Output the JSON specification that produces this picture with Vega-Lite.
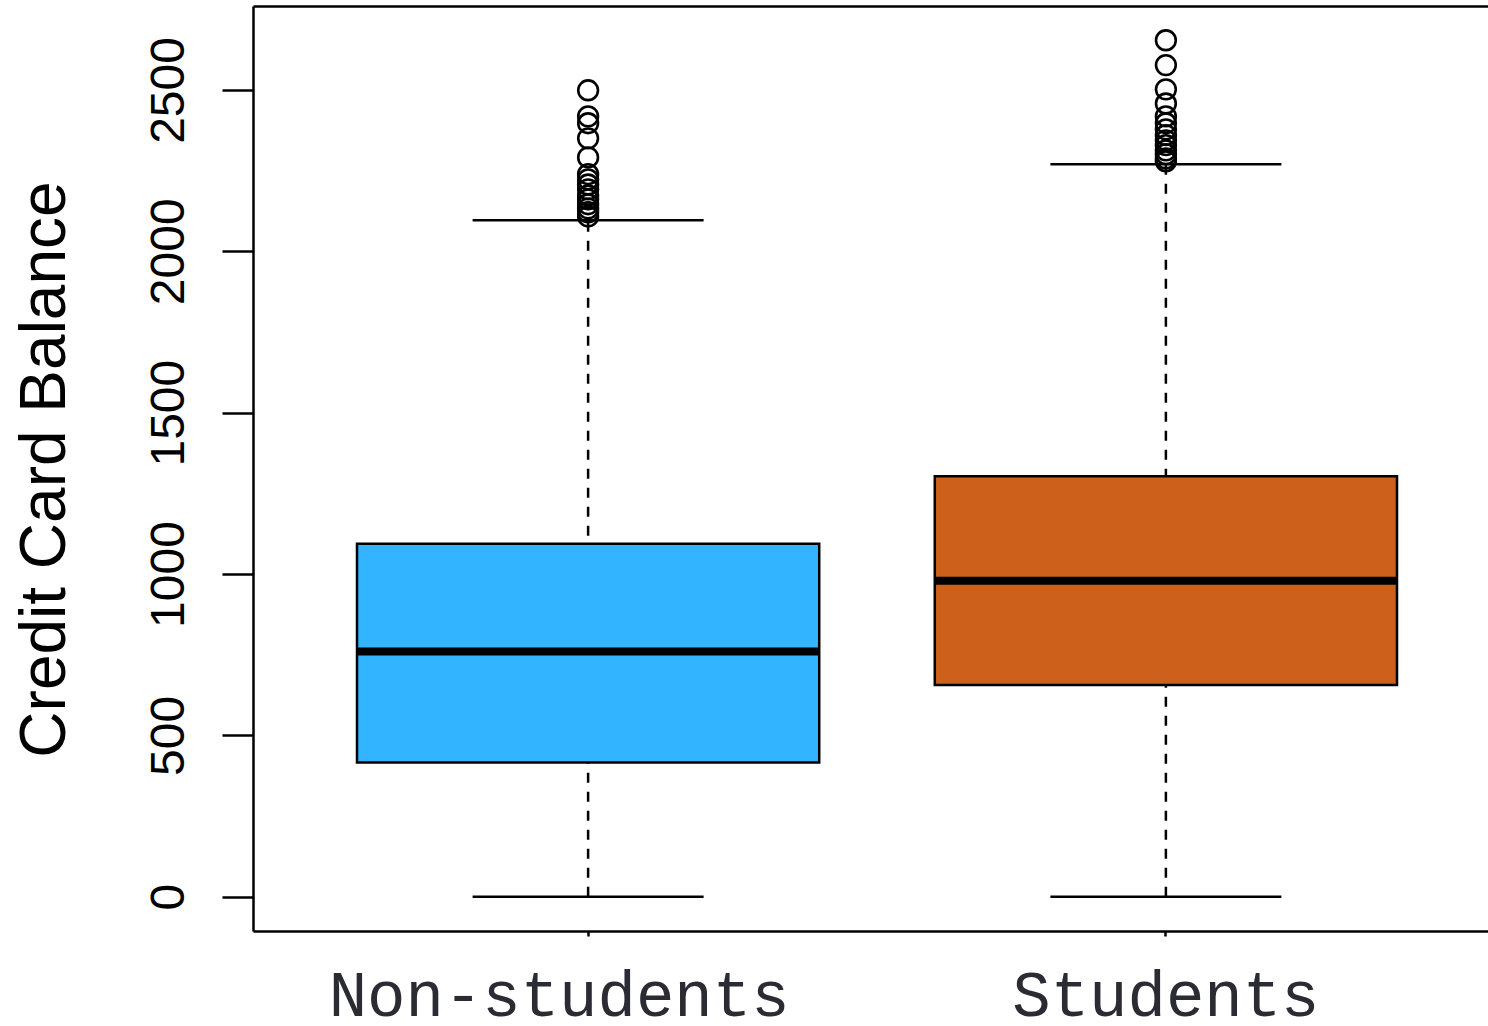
{
  "$schema": "https://vega.github.io/schema/vega-lite/v6.json",
  "width": 1235,
  "height": 925,
  "autosize": "none",
  "padding": {"left": 253, "top": 6, "right": 0, "bottom": 95},
  "background": "white",
  "config": {
    "view": {"stroke": null},
    "axis": {"grid": false},
    "axisY": {
      "labelAngle": -90,
      "labelAlign": "center",
      "labelBaseline": "alphabetic",
      "labelFont": "Liberation Sans",
      "labelFontSize": 48,
      "labelColor": "black",
      "labelPadding": 39,
      "labelFlush": false,
      "labelOverlap": false,
      "tickSize": 31,
      "tickWidth": 2.5,
      "tickColor": "black",
      "domainColor": "black",
      "domainWidth": 2.5,
      "titleFont": "Liberation Sans",
      "titleFontSize": 64,
      "titleFontWeight": "normal",
      "titleColor": "black",
      "titleAngle": -90,
      "titleX": -189,
      "titleY": 463,
      "titleAlign": "center",
      "titleBaseline": "alphabetic"
    }
  },
  "datasets": {
    "summary": [
      {"group": "Non-students", "lower": 0, "q1": 416, "median": 760, "q3": 1094, "upper": 2096},
      {"group": "Students", "lower": 0, "q1": 656, "median": 979, "q3": 1303, "upper": 2270}
    ],
    "outliers": [
      {"group": "Non-students", "balance": 2499},
      {"group": "Non-students", "balance": 2418},
      {"group": "Non-students", "balance": 2397},
      {"group": "Non-students", "balance": 2350},
      {"group": "Non-students", "balance": 2291},
      {"group": "Non-students", "balance": 2239},
      {"group": "Non-students", "balance": 2223},
      {"group": "Non-students", "balance": 2207},
      {"group": "Non-students", "balance": 2192},
      {"group": "Non-students", "balance": 2173},
      {"group": "Non-students", "balance": 2161},
      {"group": "Non-students", "balance": 2146},
      {"group": "Non-students", "balance": 2133},
      {"group": "Non-students", "balance": 2121},
      {"group": "Non-students", "balance": 2108},
      {"group": "Students", "balance": 2654},
      {"group": "Students", "balance": 2577},
      {"group": "Students", "balance": 2502},
      {"group": "Students", "balance": 2458},
      {"group": "Students", "balance": 2418},
      {"group": "Students", "balance": 2397},
      {"group": "Students", "balance": 2378},
      {"group": "Students", "balance": 2360},
      {"group": "Students", "balance": 2344},
      {"group": "Students", "balance": 2329},
      {"group": "Students", "balance": 2313},
      {"group": "Students", "balance": 2301},
      {"group": "Students", "balance": 2288},
      {"group": "Students", "balance": 2279}
    ]
  },
  "resolve": {"axis": {"x": "independent"}},
  "layer": [
    {
      "data": {"name": "summary"},
      "mark": {"type": "rule", "stroke": "black", "strokeWidth": 2.5, "strokeDash": [10, 9], "opacity": 1},
      "encoding": {
        "x": {
          "field": "group", "type": "nominal",
          "scale": {"domain": ["Non-students", "Students"], "range": [0, 1248], "paddingInner": 0.2, "paddingOuter": 0.18},
          "axis": {
            "orient": "bottom", "title": null, "labelAngle": 0, "labelLimit": 0,
            "labelFont": "Liberation Mono", "labelFontSize": 64, "labelColor": "#2b2b33",
            "labelPadding": 79, "labelBaseline": "alphabetic",
            "labelOffset": {"condition": {"test": "datum.value === 'Non-students'", "value": -29}, "value": 0},
            "tickSize": 5, "tickWidth": 2.5, "tickColor": "black",
            "domainColor": "black", "domainWidth": 2.5
          }
        },
        "y": {
          "field": "lower", "type": "quantitative", "title": "Credit Card Balance",
          "scale": {"domain": [-106.2, 2760.2], "nice": false, "zero": false},
          "axis": {"values": [0, 500, 1000, 1500, 2000, 2500], "format": "d"}
        },
        "y2": {"field": "upper"}
      }
    },
    {
      "data": {"name": "summary"},
      "mark": {"type": "tick", "color": "black", "size": 231, "thickness": 2.5, "orient": "horizontal", "opacity": 1},
      "encoding": {
        "x": {
          "field": "group", "type": "nominal",
          "axis": {"orient": "top", "ticks": false, "labels": false, "title": null, "domainColor": "black", "domainWidth": 2.5}
        },
        "y": {"field": "lower", "type": "quantitative", "title": "Credit Card Balance"}
      }
    },
    {
      "data": {"name": "summary"},
      "mark": {"type": "tick", "color": "black", "size": 231, "thickness": 2.5, "orient": "horizontal", "opacity": 1},
      "encoding": {
        "x": {"field": "group", "type": "nominal", "axis": null},
        "y": {"field": "upper", "type": "quantitative", "title": "Credit Card Balance"}
      }
    },
    {
      "data": {"name": "summary"},
      "mark": {"type": "bar", "stroke": "black", "strokeWidth": 2.5, "opacity": 1},
      "encoding": {
        "x": {"field": "group", "type": "nominal", "axis": null},
        "y": {"field": "q1", "type": "quantitative", "title": "Credit Card Balance"},
        "y2": {"field": "q3"},
        "fill": {
          "field": "group", "type": "nominal",
          "scale": {"domain": ["Non-students", "Students"], "range": ["#33b4ff", "#cd601a"]},
          "legend": null
        }
      }
    },
    {
      "data": {"name": "summary"},
      "mark": {"type": "tick", "color": "black", "size": 462, "thickness": 8, "orient": "horizontal", "opacity": 1},
      "encoding": {
        "x": {"field": "group", "type": "nominal", "axis": null},
        "y": {"field": "median", "type": "quantitative", "title": "Credit Card Balance"}
      }
    },
    {
      "data": {"name": "outliers"},
      "mark": {"type": "point", "shape": "circle", "filled": false, "stroke": "black", "strokeWidth": 2.6, "size": 390, "opacity": 1},
      "encoding": {
        "x": {"field": "group", "type": "nominal", "axis": null},
        "y": {"field": "balance", "type": "quantitative", "title": "Credit Card Balance"}
      }
    }
  ]
}
